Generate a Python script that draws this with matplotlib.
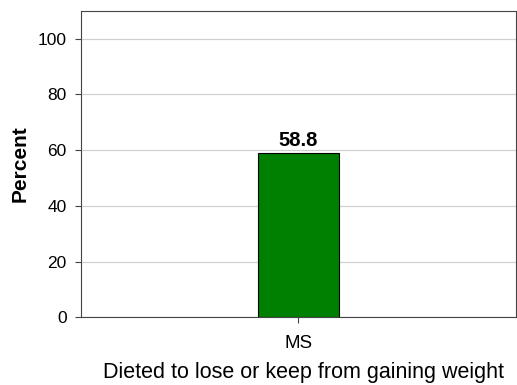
import matplotlib.pyplot as plt

plt.rcParams['font.family'] = ['Liberation Sans', 'DejaVu Sans']

# data
categories = ['MS']
values = [58.8]
ylabel = 'Percent'
xlabel = 'Dieted to lose or keep from gaining weight'

fig = plt.figure(figsize=(5.17, 3.85), dpi=100)
ax = fig.add_axes([0.156, 0.176, 0.842, 0.796])

ax.bar(range(len(categories)), values, width=0.186, color='#008000',
       edgecolor='black', linewidth=0.8, zorder=3)
for i, v in enumerate(values):
    ax.text(i, v + 1.2, f'{v:.1f}', ha='center', va='bottom',
            fontsize=14.5, fontweight='bold')

ax.set_xlim(-0.5, 0.5)
ax.set_ylim(0, 110)
ax.set_yticks([0, 20, 40, 60, 80, 100])
ax.set_xticks(range(len(categories)))
ax.set_xticklabels(categories)
ax.tick_params(axis='y', labelsize=12.5, length=4, width=0.8, color='#444444', pad=6)
ax.tick_params(axis='x', labelsize=13.5, length=4, width=0.8, color='#444444', pad=9)
ax.yaxis.grid(True, color='#d0d0d0', linewidth=0.9, zorder=0)
ax.set_axisbelow(True)
for s in ax.spines.values():
    s.set_color('#444444')
    s.set_linewidth(0.8)

ax.set_ylabel(ylabel, fontsize=15, fontweight='bold', labelpad=6)
ax.set_xlabel(xlabel, fontsize=15.5, labelpad=6)
# label sits a little right of centre in the original
ax.xaxis.set_label_coords(0.513, -0.145)

fig.savefig('out.png', dpi=100)
